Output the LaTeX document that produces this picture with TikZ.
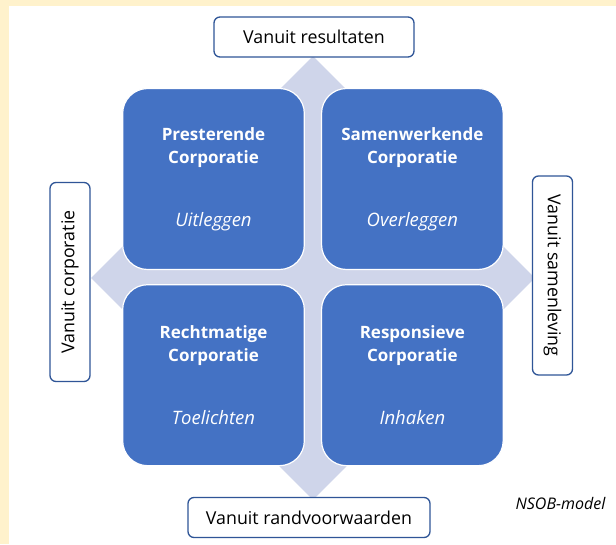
\documentclass[tikz,border=0pt]{standalone}
\usepackage{fontspec}
\setmainfont{Open Sans}
\usetikzlibrary{positioning,shapes.geometric}
\definecolor{paperCream}{HTML}{FFF2CC}
\definecolor{quadBlue}{HTML}{4472C4}
\definecolor{backLavender}{HTML}{CFD5EA}
\definecolor{labelBorder}{HTML}{2F5597}
\newcommand{\motto}[1]{{\fontsize{18.5}{23}\selectfont\itshape #1}}

\begin{document}
\begin{tikzpicture}
      [x=1pt, y=-1pt,
      % STYLES
      % The backdrop style is used for the light diamond behind the quadrants
      backdrop/.style={diamond, fill=backLavender, inner sep=0pt, minimum width=444pt, minimum height=444pt},
      % The quadrant style is used to draw the four kinds of corporation
      quadrant/.style={rectangle, rounded corners=25pt, draw=white, line width=1.2pt, fill=quadBlue, text=white, minimum width=181pt, minimum height=181pt, text width=175pt, align=center, font=\fontsize{17}{23}\selectfont},
      % The viewLabel style is used for the four points of view round the model
      viewLabel/.style={rectangle, rounded corners=6pt, draw=labelBorder, line width=1.3pt, fill=white, minimum height=40pt, inner sep=2pt, font=\fontsize{17.8}{20}\selectfont},
      % The caption style
      caption/.style={anchor=east, inner sep=0pt, font=\fontsize{16}{18}\selectfont\itshape}]

      % Paper and frame
      \fill[paperCream] (0,0) rectangle (616,544);
      \fill[white] (8.5,5.5) rectangle (616,544);
      \useasboundingbox (0,0) rectangle (616,544);

      % Draw backdrop
      \node [backdrop] (backdrop) at (313,278) {};

      % Draw quadrants
      \node [quadrant] (presterende) at (213.5,179) {\textbf{Presterende}\\\textbf{Corporatie}\\[40pt]\motto{Uitleggen}};
      \node [quadrant, right=16pt of presterende] (samenwerkende) {\textbf{Samenwerkende}\\\textbf{Corporatie}\\[40pt]\motto{Overleggen}};
      \node [quadrant, below=14pt of presterende] (rechtmatige) {\textbf{Rechtmatige}\\\textbf{Corporatie}\\[40pt]\motto{Toelichten}};
      \node [quadrant, below=14pt of samenwerkende] (responsieve) {\textbf{Responsieve}\\\textbf{Corporatie}\\[40pt]\motto{Inhaken}};

      %%%%%%%%%%%%%%%
      % Points of view
      \node [viewLabel, minimum width=200pt] (resultaten) at (314,37) {Vanuit resultaten};
      \node [viewLabel, minimum width=199pt, rotate=90] (corporatie) at (70,282) {Vanuit corporatie};
      \node [viewLabel, minimum width=199pt, rotate=-90] (samenleving) at (552.5,275.5) {Vanuit samenleving};
      \node [viewLabel, minimum width=242pt] (randvoorwaarden) at (309,517.5) {Vanuit randvoorwaarden};

      %%%%%%%%%%%%%%%
      % Caption
      \node [caption] (nsobModel) at (605.5,503.5) {NSOB-model};

    \end{tikzpicture}
\end{document}
